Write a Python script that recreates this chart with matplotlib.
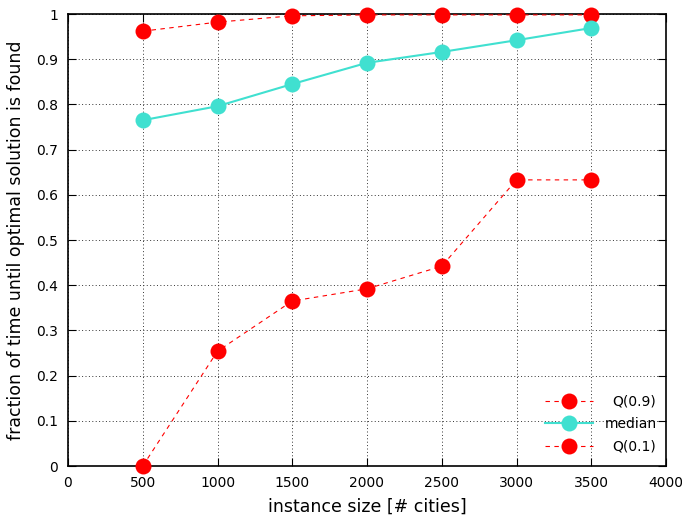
import numpy as np
import matplotlib.pyplot as plt

sizes = [500, 1000, 1500, 2000, 2500, 3000, 3500]
q90 = [0.962, 0.982, 0.996, 0.998, 0.998, 0.998, 0.998]
median = [0.765, 0.796, 0.845, 0.892, 0.916, 0.942, 0.969]
q10 = [0.0, 0.254, 0.365, 0.392, 0.442, 0.633, 0.633]

fig = plt.figure(figsize=(6.82, 5.17), dpi=100)
ax = fig.add_axes([68 / 682, 1 - 466 / 517, 598 / 682, 452 / 517])

dashed = (0, (4, 4))
ax.plot(sizes, q90, linestyle=dashed, color='red', lw=0.8, marker='o', ms=11.5,
        markeredgewidth=0, label='Q(0.9)', clip_on=False, zorder=3)
ax.plot(sizes, median, '-', color='#40e0d0', lw=1.5, marker='o', ms=11.5,
        markeredgewidth=0, label='median', clip_on=False, zorder=3)
ax.plot(sizes, q10, linestyle=dashed, color='red', lw=0.8, marker='o', ms=11.5,
        markeredgewidth=0, label='Q(0.1)', clip_on=False, zorder=3)

ax.set_xlim(0, 4000)
ax.set_ylim(0, 1)
ax.set_xticks(np.arange(0, 4001, 500))
ax.set_yticks(np.arange(0, 1.01, 0.1))
ax.set_yticklabels(['0', '0.1', '0.2', '0.3', '0.4', '0.5', '0.6', '0.7', '0.8', '0.9', '1'])
ax.tick_params(direction='in', top=True, right=True, length=6, labelsize=10, pad=7)
ax.grid(True, color='#333333', linestyle=(0, (1, 2.5)), linewidth=0.7)
for s in ax.spines.values():
    s.set_linewidth(1.2)

ax.set_xlabel('instance size [# cities]', fontsize=12.5, labelpad=6)
ax.set_ylabel('fraction of time until optimal solution is found', fontsize=12.5, labelpad=8)

leg = ax.legend(loc='lower right', frameon=False, fontsize=10, handlelength=3.5,
                labelspacing=0.6, bbox_to_anchor=(1.005, 0.0))

# right-justify the legend labels (gnuplot style) while keeping the keys on the left
renderer = fig.canvas.get_renderer()
rows = leg._legend_handle_box.get_children()[0].get_children()
widest = max(r.get_bbox(renderer).width for r in rows)
for r in rows:
    r.width = widest
    r.mode = 'expand'

fig.savefig('out.png', dpi=100)
